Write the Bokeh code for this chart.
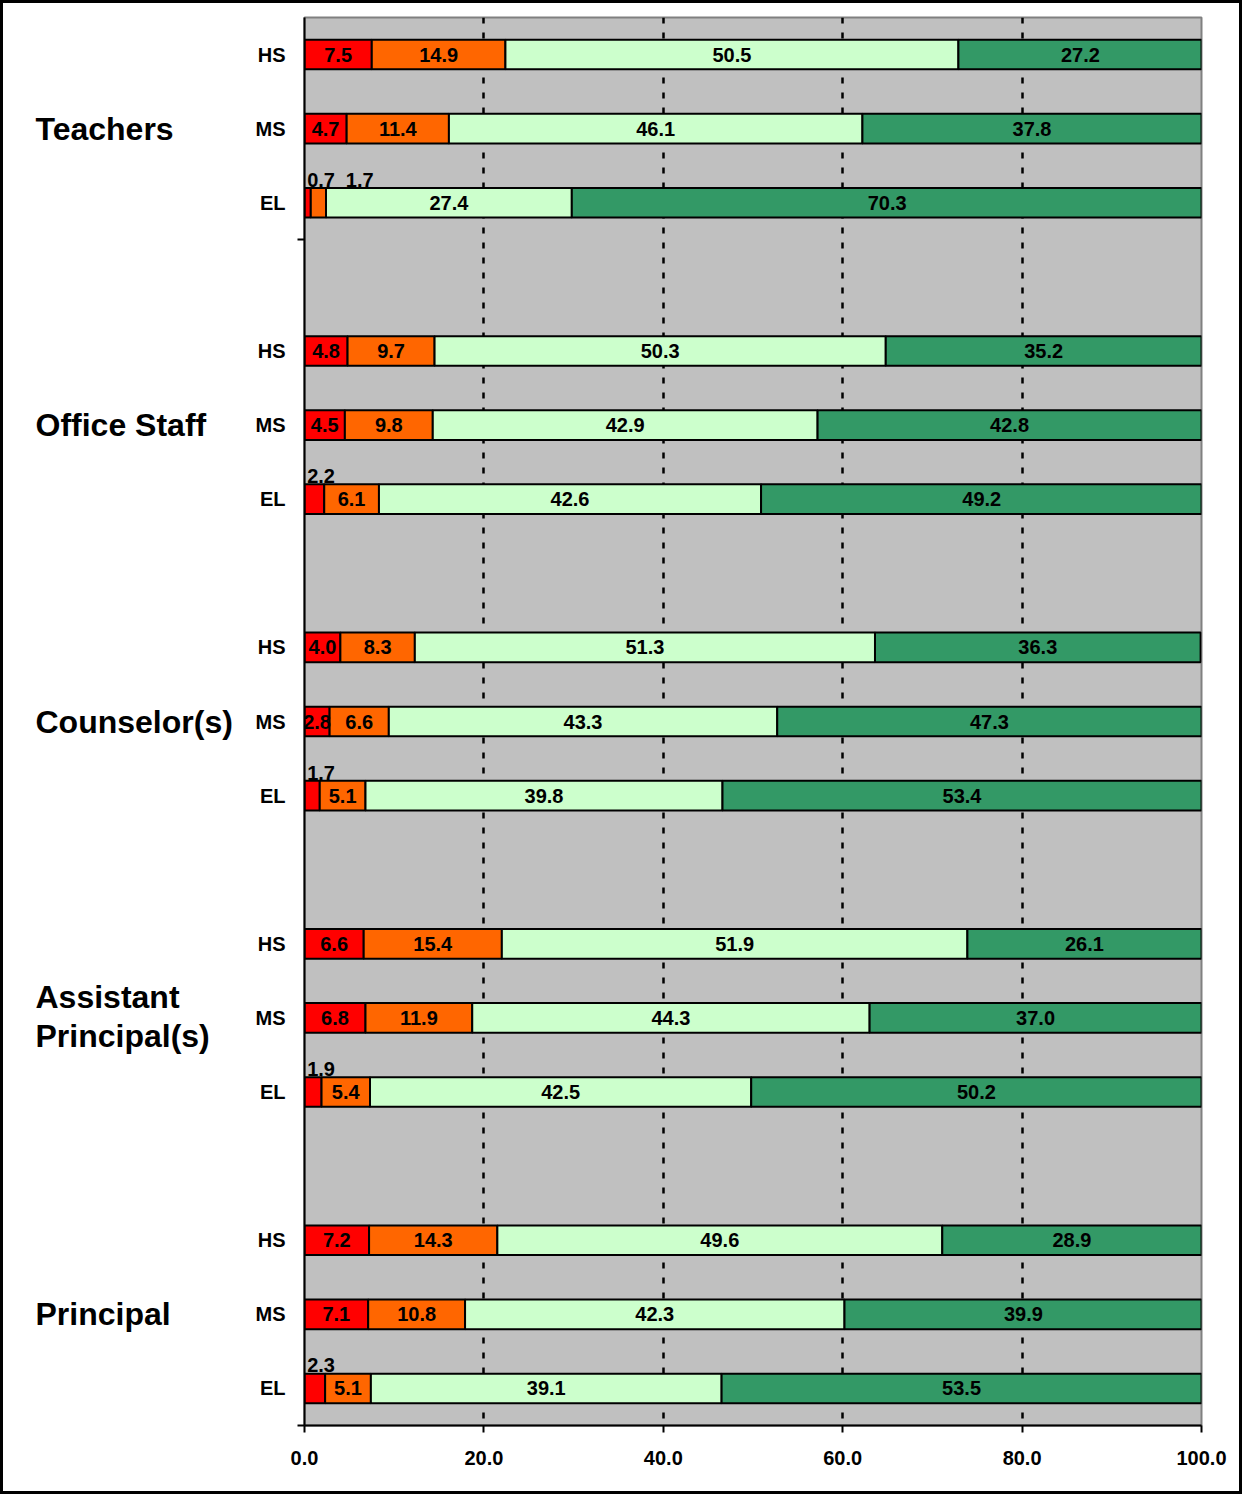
from bokeh.plotting import figure
from bokeh.layouts import row
from bokeh.models import Range1d, FixedTicker, ColumnDataSource, NumeralTickFormatter
from bokeh.embed import file_html
from bokeh.resources import INLINE
from bokeh.core.properties import value

# ---- data ----
groups = ["Teachers", "Office Staff", "Counselor(s)", "Assistant Principal(s)", "Principal"]
levels = ["HS", "MS", "EL"]
strongly_disagree = [7.5, 4.7, 0.7, 4.8, 4.5, 2.2, 4.0, 2.8, 1.7, 6.6, 6.8, 1.9, 7.2, 7.1, 2.3]
disagree = [14.9, 11.4, 1.7, 9.7, 9.8, 6.1, 8.3, 6.6, 5.1, 15.4, 11.9, 5.4, 14.3, 10.8, 5.1]
agree = [50.5, 46.1, 27.4, 50.3, 42.9, 42.6, 51.3, 43.3, 39.8, 51.9, 44.3, 42.5, 49.6, 42.3, 39.1]
strongly_agree = [27.2, 37.8, 70.3, 35.2, 42.8, 49.2, 36.3, 47.3, 53.4, 26.1, 37.0, 50.2, 28.9, 39.9, 53.5]
x_ticks = [0, 20, 40, 60, 80, 100]

series = [strongly_disagree, disagree, agree, strongly_agree]
colors = ["#FF0000", "#FF6600", "#CCFFCC", "#339966"]

FONT = "Liberation Sans"
n_slots = len(groups) * (len(levels) + 1) - 1

ys = []
for g in range(len(groups)):
    for l in range(len(levels)):
        ys.append(g * (len(levels) + 1) + l + 1)

H = 1488
TOP, BOTTOM = 14, 66
LW = 230  # width of the group-label column

yr = Range1d(n_slots + 0.5, 0.5)

# ---- left column with group labels ----
lf = figure(width=LW, height=H, output_backend="svg", toolbar_location=None,
            x_range=Range1d(0, LW), y_range=yr, x_axis_location=None, y_axis_location=None,
            min_border_left=0, min_border_right=0, min_border_top=TOP, min_border_bottom=BOTTOM)
lf.outline_line_color = None
lf.background_fill_color = "white"
lf.border_fill_color = "white"
lf.xgrid.grid_line_color = None
lf.ygrid.grid_line_color = None

gx, gy, gt = [], [], []
for g, name in enumerate(groups):
    yc = ys[g * len(levels) + 1]
    lines = [name] if len(name) < 14 else name.split(" ")
    offs = [0.0] if len(lines) == 1 else [-0.28, 0.24]
    for line, off in zip(lines, offs):
        gx.append(32)
        gy.append(yc + off)
        gt.append(line)
lf.text(x=gx, y=gy, text=gt, text_align="left", text_baseline="middle",
        text_font=value(FONT), text_font_style="bold", text_font_size="32px", text_color="black")

# ---- main chart ----
p = figure(width=1236 - LW, height=H, output_backend="svg", toolbar_location=None,
           x_range=Range1d(0, 100), y_range=yr,
           min_border_left=301 - LW, min_border_right=38, min_border_top=TOP, min_border_bottom=BOTTOM)
p.background_fill_color = "#C0C0C0"
p.border_fill_color = "white"
p.outline_line_color = "#808080"
p.outline_line_width = 2

p.ygrid.grid_line_color = None
p.xgrid.ticker = FixedTicker(ticks=x_ticks[1:-1])
p.xgrid.grid_line_color = "black"
p.xgrid.grid_line_width = 2.5
p.xgrid.grid_line_dash = "6 9"

lefts = [0.0] * len(ys)
label_x, label_y, label_t = [], [], []
above_x, above_y, above_t = [], [], []
last_above_end = {}
for vals, col in zip(series, colors):
    rights = [a + b for a, b in zip(lefts, vals)]
    src = ColumnDataSource(dict(y=ys, left=lefts, right=rights))
    p.hbar(y="y", left="left", right="right", height=0.4, source=src,
           fill_color=col, line_color="black", line_width=2)
    for i, v in enumerate(vals):
        txt = "%.1f" % v
        if v >= 2.5:
            label_x.append((lefts[i] + rights[i]) / 2)
            label_y.append(ys[i])
            label_t.append(txt)
        else:
            x0 = lefts[i] + 0.3
            if i in last_above_end:
                x0 = max(x0, last_above_end[i] + 1.0)
            above_x.append(x0)
            above_y.append(ys[i] - 0.31)
            above_t.append(txt)
            last_above_end[i] = x0 + 3.3
    lefts = rights

p.text(x=label_x, y=label_y, text=label_t, text_align="center", text_baseline="middle",
       text_font=value(FONT), text_font_style="bold", text_font_size="20px", text_color="black")
p.text(x=above_x, y=above_y, text=above_t, text_align="left", text_baseline="middle",
       text_font=value(FONT), text_font_style="bold", text_font_size="20px", text_color="black")

p.xaxis.ticker = FixedTicker(ticks=x_ticks)
p.xaxis.formatter = NumeralTickFormatter(format="0.0")
p.xaxis.major_label_text_font = FONT
p.xaxis.major_label_text_font_style = "bold"
p.xaxis.major_label_text_font_size = "20px"
p.xaxis.major_label_text_color = "black"
p.xaxis.major_tick_out = 7
p.xaxis.major_tick_in = 0
p.xaxis.major_tick_line_width = 2
p.xaxis.major_tick_line_color = "black"
p.xaxis.minor_tick_line_color = None
p.xaxis.axis_line_width = 2
p.xaxis.axis_line_color = "black"
p.xaxis.major_label_standoff = 18

boundaries = [len(levels) + 0.5, n_slots + 0.5]
p.yaxis.ticker = FixedTicker(ticks=ys, minor_ticks=boundaries)
p.yaxis.major_label_overrides = {y: levels[i % len(levels)] for i, y in enumerate(ys)}
p.yaxis.major_label_text_font = FONT
p.yaxis.major_label_text_font_style = "bold"
p.yaxis.major_label_text_font_size = "20px"
p.yaxis.major_label_text_color = "black"
p.yaxis.major_tick_line_color = None
p.yaxis.major_tick_out = 0
p.yaxis.major_tick_in = 0
p.yaxis.minor_tick_out = 7
p.yaxis.minor_tick_in = 0
p.yaxis.minor_tick_line_color = "black"
p.yaxis.minor_tick_line_width = 2
p.yaxis.axis_line_width = 2
p.yaxis.axis_line_color = "black"
p.yaxis.major_label_standoff = 12

layout = row(lf, p, spacing=0, styles={"border": "3px solid black"})

open("out.html", "w").write(file_html(layout, INLINE))
